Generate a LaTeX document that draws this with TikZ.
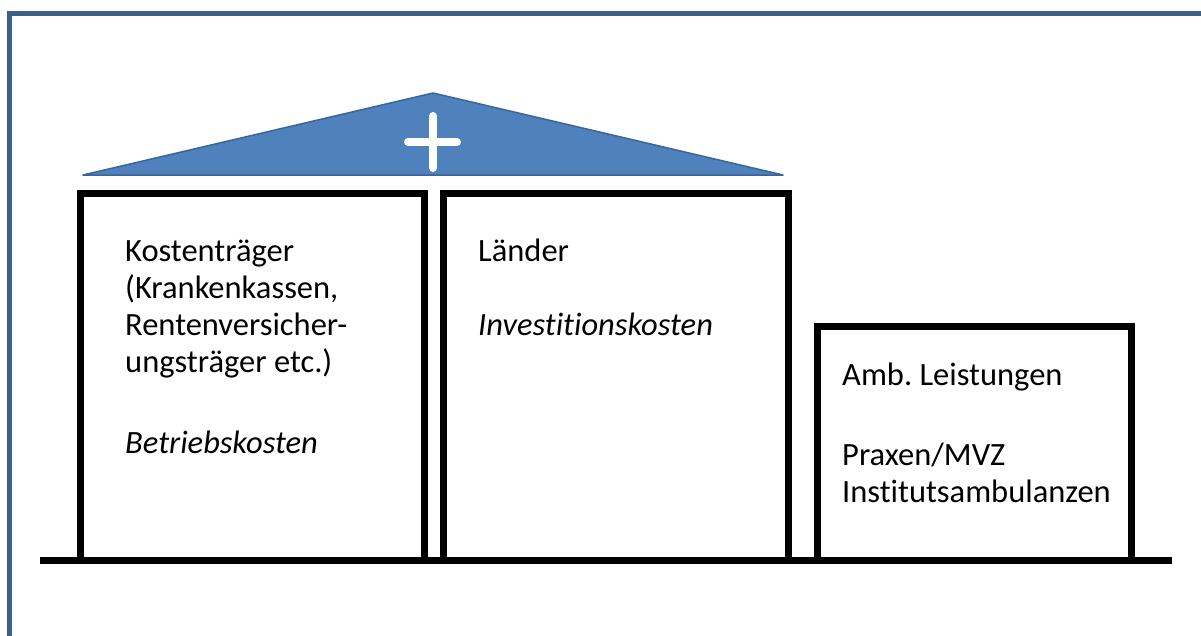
\documentclass[tikz,border=0pt]{standalone}
\usepackage{fontspec}
\setmainfont{Carlito}[Ligatures=NoCommon]
\frenchspacing
\definecolor{framecol}{HTML}{3E5F86}
\definecolor{roofcol}{HTML}{4F81BD}
\definecolor{roofline}{HTML}{3A6597}
\begin{document}
\begin{tikzpicture}[x=1pt,y=-1pt,
  wall/.style={draw=black,line width=7pt},
  txt/.style={inner sep=0pt,anchor=base west,font=\fontsize{32.5}{38}\selectfont},
  itxt/.style={txt,font=\fontsize{32.5}{38}\selectfont\itshape}]
\useasboundingbox (0,0) rectangle (1201,635);
\fill[white] (0,0) rectangle (1201,635);
% frame
\draw[framecol,line width=5.5pt,line join=miter] (9.5,640) -- (9.5,13.5) -- (1210,13.5);
% roof
\draw[fill=roofcol,draw=roofline,line width=1.5pt,line join=round] (83,175) -- (433,93) -- (783,175) -- cycle;
\draw[white,line width=8pt,line cap=round] (433,116) -- (433,168);
\draw[white,line width=8pt,line cap=round] (408,142) -- (457,142);
% boxes
\draw[wall] (80,193.5) rectangle (424,560);
\draw[wall] (443.5,193.5) rectangle (788.5,560);
\draw[wall] (817.5,326.5) rectangle (1131.5,560);
\draw[wall] (40,560) -- (1172,560);
% texts
\node[txt] (k1) at (125,261) {Kostenträger};
\node[txt] (k2) at (125,298) {(Krankenkassen,};
\node[txt] (k3) at (125,335) {Rentenversicher-};
\node[txt] (k4) at (125,372) {ungsträger etc.)};
\node[itxt] (k5) at (125,453) {Betriebskosten};
\node[txt] (l1) at (478,261) {Länder};
\node[itxt] (l2) at (478,335) {Investitionskosten};
\node[txt] (a1) at (842,385) {Amb. Leistungen};
\node[txt] (a2) at (842,465) {Praxen/MVZ};
\node[txt] (a3) at (842,502) {Institutsambulanzen};
\end{tikzpicture}
\end{document}
